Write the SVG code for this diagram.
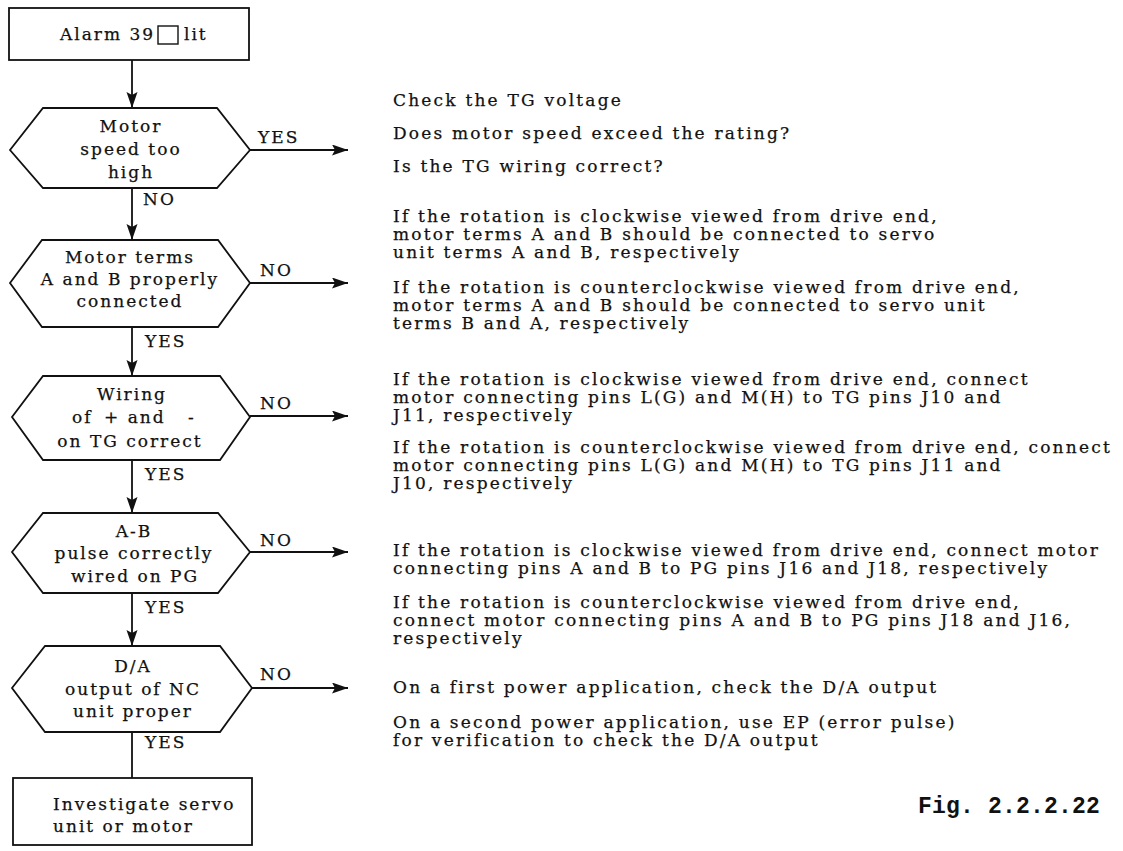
<svg xmlns="http://www.w3.org/2000/svg" width="1123" height="851" viewBox="0 0 1123 851">
  <style>
    .shape { fill: #fff; stroke: #111; stroke-width: 1.8; }
    .lamp { fill: none; stroke: #111; stroke-width: 1.4; }
    .wire { fill: none; stroke: #111; stroke-width: 1.8; }
    text { font-family: "DejaVu Serif", "Liberation Serif", serif; font-size: 17px; letter-spacing: 2px; fill: #111; stroke: #111; stroke-width: 0.25; }
    .note { letter-spacing: 2.2px; }
    .mid { text-anchor: middle; }
    .fig { font-family: "Liberation Mono", "DejaVu Sans Mono", monospace; font-size: 23px; font-weight: bold; letter-spacing: 0.2px; stroke-width: 0; }
  </style>
  <defs>
    <marker id="head" markerUnits="userSpaceOnUse" markerWidth="17" markerHeight="12" refX="16" refY="5.5" orient="auto">
      <path d="M0,0 L16,5.5 L0,11 L3,5.5 z" fill="#111"/>
    </marker>
  </defs>
  <rect width="1123" height="851" fill="#fff"/>

  <!-- flow connectors with their YES / NO labels -->
  <g id="connectors">
    <line class="wire" x1="132" y1="60" x2="132" y2="108" marker-end="url(#head)"/>
    <line class="wire" x1="132" y1="188" x2="132" y2="240" marker-end="url(#head)"/>
    <line class="wire" x1="132" y1="327" x2="132" y2="376" marker-end="url(#head)"/>
    <line class="wire" x1="132" y1="460" x2="132" y2="513" marker-end="url(#head)"/>
    <line class="wire" x1="132" y1="593" x2="132" y2="646" marker-end="url(#head)"/>
    <line class="wire" x1="132" y1="732" x2="132" y2="778"/>

    <line class="wire" x1="250" y1="150" x2="348" y2="150" marker-end="url(#head)"/>
    <line class="wire" x1="250" y1="283" x2="348" y2="283" marker-end="url(#head)"/>
    <line class="wire" x1="250" y1="416" x2="348" y2="416" marker-end="url(#head)"/>
    <line class="wire" x1="250" y1="552" x2="348" y2="552" marker-end="url(#head)"/>
    <line class="wire" x1="252" y1="688" x2="348" y2="688" marker-end="url(#head)"/>

    <text x="258" y="143">YES</text>
    <text x="143" y="205">NO</text>
    <text x="260" y="276">NO</text>
    <text x="145" y="347">YES</text>
    <text x="260" y="409">NO</text>
    <text x="145" y="480">YES</text>
    <text x="260" y="546">NO</text>
    <text x="145" y="613">YES</text>
    <text x="260" y="680">NO</text>
    <text x="145" y="748">YES</text>
  </g>

  <g id="alarm">
    <rect class="shape" x="9" y="8" width="240" height="52"/>
    <text x="60" y="40">Alarm 39</text>
    <rect class="lamp" x="158" y="26" width="20" height="18"/>
    <text x="184" y="40">lit</text>
  </g>

  <g id="speed-check">
    <polygon class="shape" points="10,150 43,108 217,108 250,150 217,188 43,188"/>
    <text class="mid" x="131" y="132">Motor</text>
    <text class="mid" x="131" y="155">speed too</text>
    <text class="mid" x="131" y="178">high</text>
  </g>

  <g id="terms-check">
    <polygon class="shape" points="10,283 42,240 218,240 250,283 218,327 42,327"/>
    <text class="mid" x="130" y="263">Motor terms</text>
    <text class="mid" x="130" y="285">A and B properly</text>
    <text class="mid" x="130" y="307">connected</text>
  </g>

  <g id="tg-check">
    <polygon class="shape" points="12,417 43,376 220,376 250,417 220,460 43,460"/>
    <text class="mid" x="132" y="400">Wiring</text>
    <text y="423"><tspan x="72">of</tspan> <tspan x="104">+ and</tspan> <tspan x="188">-</tspan></text>
    <text class="mid" x="130" y="447">on TG correct</text>
  </g>

  <g id="pg-check">
    <polygon class="shape" points="12,552 43,513 218,513 250,552 218,593 43,593"/>
    <text class="mid" x="134" y="537">A-B</text>
    <text class="mid" x="134" y="559">pulse correctly</text>
    <text class="mid" x="135" y="582">wired on PG</text>
  </g>

  <g id="da-check">
    <polygon class="shape" points="12,688 45,646 220,646 252,688 220,732 45,732"/>
    <text class="mid" x="133" y="672">D/A</text>
    <text class="mid" x="133" y="695">output of NC</text>
    <text class="mid" x="133" y="717">unit proper</text>
  </g>

  <g id="investigate">
    <rect class="shape" x="13" y="778" width="239" height="67"/>
    <text x="53" y="810">Investigate servo</text>
    <text x="53" y="832">unit or motor</text>
  </g>

  <g id="speed-action" class="note">
    <text class="note" x="393" y="106">Check the TG voltage</text>
    <text class="note" x="393" y="139">Does motor speed exceed the rating?</text>
    <text class="note" x="393" y="172">Is the TG wiring correct?</text>
  </g>

  <g id="terms-action">
    <text class="note" x="393" y="222">If the rotation is clockwise viewed from drive end,</text>
    <text class="note" x="393" y="240">motor terms A and B should be connected to servo</text>
    <text class="note" x="393" y="258">unit terms A and B, respectively</text>
    <text class="note" x="393" y="293">If the rotation is counterclockwise viewed from drive end,</text>
    <text class="note" x="393" y="311">motor terms A and B should be connected to servo unit</text>
    <text class="note" x="393" y="329">terms B and A, respectively</text>
  </g>

  <g id="tg-action">
    <text class="note" x="393" y="385">If the rotation is clockwise viewed from drive end, connect</text>
    <text class="note" x="393" y="403">motor connecting pins L(G) and M(H) to TG pins J10 and</text>
    <text class="note" x="393" y="421">J11, respectively</text>
    <text class="note" x="393" y="453">If the rotation is counterclockwise viewed from drive end, connect</text>
    <text class="note" x="393" y="471">motor connecting pins L(G) and M(H) to TG pins J11 and</text>
    <text class="note" x="393" y="489">J10, respectively</text>
  </g>

  <g id="pg-action">
    <text class="note" x="393" y="556">If the rotation is clockwise viewed from drive end, connect motor</text>
    <text class="note" x="393" y="574">connecting pins A and B to PG pins J16 and J18, respectively</text>
    <text class="note" x="393" y="608">If the rotation is counterclockwise viewed from drive end,</text>
    <text class="note" x="393" y="626">connect motor connecting pins A and B to PG pins J18 and J16,</text>
    <text class="note" x="393" y="644">respectively</text>
  </g>

  <g id="da-action">
    <text class="note" x="393" y="693">On a first power application, check the D/A output</text>
    <text class="note" x="393" y="728">On a second power application, use EP (error pulse)</text>
    <text class="note" x="393" y="746">for verification to check the D/A output</text>
  </g>

  <text class="fig" x="918" y="813">Fig. 2.2.2.22</text>
</svg>
